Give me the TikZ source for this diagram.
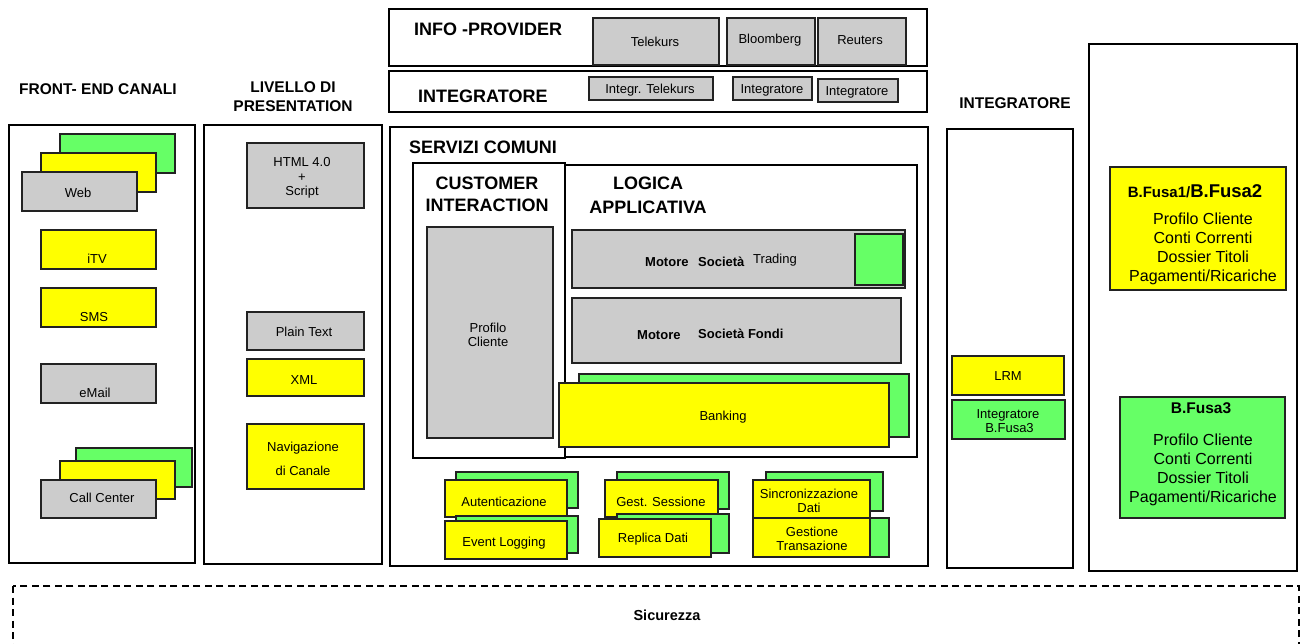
\documentclass[tikz,border=0pt]{standalone}
\usepackage{fontspec}
\setmainfont{Liberation Sans}
\usetikzlibrary{fit}
\definecolor{boxgray}{HTML}{CCCCCC}
\definecolor{boxyellow}{HTML}{FFFF00}
\definecolor{boxgreen}{HTML}{66FF66}
\definecolor{edgegray}{HTML}{222222}

\begin{document}
\begin{tikzpicture}[x=1pt,y=-1pt,
  frame/.style={draw=black, line width=2.8pt, inner sep=0pt},
  inbox/.style={draw=edgegray, line width=1.4pt, inner sep=0pt},
  gbox/.style={inbox, fill=boxgray},
  ybox/.style={inbox, fill=boxyellow},
  grbox/.style={inbox, fill=boxgreen},
  txt/.style={inner sep=0pt, font=\fontsize{13}{15.6}\selectfont, align=center},
  coltitle/.style={inner sep=0pt, font=\bfseries\fontsize{15.5}{18.8}\selectfont, align=center},
  sectitle/.style={inner sep=0pt, font=\bfseries\fontsize{18}{22}\selectfont, align=center},
  bold13/.style={inner sep=0pt, font=\bfseries\fontsize{13}{15.6}\selectfont},
  listtxt/.style={inner sep=0pt, font=\fontsize{16}{18.8}\selectfont, align=center},
  secure/.style={draw=black, line width=1.5pt, dash pattern=on 7pt off 4.5pt}
]
\useasboundingbox (0,0) rectangle (1308,643);

% ---------- column titles ----------
\node[coltitle] (tfe) at (98,89) {FRONT- END CANALI};
\node[coltitle] (tpres) at (293,97) {LIVELLO DI\\PRESENTATION};
\node[coltitle] (tint) at (1015,103) {INTEGRATORE};

% ---------- front-end channels ----------
\node[frame, fit={(9,125)(195,563)}] (fe) {};
\node[grbox, fit={(60,134)(175,173)}] (webg) {};
\node[ybox, fit={(41,153)(156,192)}] (weby) {};
\node[gbox, fit={(22,172)(137,211)}] (web) {};
\node[txt] (tweb) at (78,193) {Web};
\node[ybox, fit={(41,230)(156,269)}] (itv) {};
\node[txt] (titv) at (97,259) {iTV};
\node[ybox, fit={(41,288)(156,327)}] (sms) {};
\node[txt] (tsms) at (94,317) {SMS};
\node[gbox, fit={(41,364)(156,403)}] (email) {};
\node[txt] (temail) at (95,393) {eMail};
\node[grbox, fit={(76,448)(192,487)}] (ccg) {};
\node[ybox, fit={(60,461)(175,499)}] (ccy) {};
\node[gbox, fit={(41,480)(156,518)}] (cc) {};
\node[txt] (tcc) at (102,498) {Call Center};

% ---------- presentation layer ----------
\node[frame, fit={(204,125)(382,564)}] (pres) {};
\node[gbox, fit={(247,143)(364,208)}] (html) {};
\node[txt] (thtml) at (302,178) {HTML 4.0\\[-1pt]+\\[-1pt]Script};
\node[gbox, fit={(247,312)(364,350)}] (plain) {};
\node[txt] (tplain) at (304,332) {Plain Text};
\node[ybox, fit={(247,359)(364,396)}] (xml) {};
\node[txt] (txml) at (304,380) {XML};
\node[ybox, fit={(247,424)(364,489)}] (nav) {};
\node[txt] (tnav) at (303,459) {Navigazione\\[8pt]di Canale};

% ---------- info providers and integrators ----------
\node[frame, fit={(389,9)(927,66)}] (info) {};
\node[sectitle, anchor=west] (tinfo) at (414,29) {INFO -PROVIDER};
\node[gbox, fit={(593,18)(719,65)}] (telekurs) {};
\node[txt] (ttelekurs) at (655,42) {Telekurs};
\node[gbox, fit={(727,18)(815,65)}] (bloomberg) {};
\node[txt] (tbloomberg) at (770,40) {Bloomberg};
\node[gbox, fit={(818,18)(906,65)}] (reuters) {};
\node[txt] (treuters) at (860,40) {Reuters};

\node[frame, fit={(389,71)(927,112)}] (integtop) {};
\node[sectitle, anchor=west] (tintegtop) at (418,96) {INTEGRATORE};
\node[gbox, fit={(589,77)(713,100)}] (itelekurs) {};
\node[txt] (titelekurs) at (650,90) {Integr. Telekurs};
\node[gbox, fit={(733,77)(812,100)}] (ibloom) {};
\node[txt] (tibloom) at (772,90) {Integratore};
\node[gbox, fit={(818,79)(898,102)}] (ireuters) {};
\node[txt] (tireuters) at (857,92) {Integratore};

% ---------- common services ----------
\node[frame, fit={(390,127)(928,566)}] (serv) {};
\node[sectitle, anchor=west] (tserv) at (409,147) {SERVIZI COMUNI};

\node[frame, fit={(565,165)(917,457)}] (logic) {};
\node[frame, fit={(413,163)(565,458)}] (cust) {};
\node[sectitle] (tcust) at (487,194) {CUSTOMER\\INTERACTION};
\node[sectitle] (tlogic) at (648,195) {LOGICA\\[2pt]APPLICATIVA};

\node[gbox, fit={(427,227)(553,438)}] (profilo) {};
\node[txt] (tprofilo) at (488,335) {Profilo\\[-2pt]Cliente};

\node[gbox, fit={(572,230)(905,288)}] (trading) {};
\node[grbox, line width=2pt, fit={(855,234)(903,285)}] (tradingg) {};
\node[bold13, anchor=base west] (tmot1) at (645,266) {Motore};
\node[bold13, anchor=base west] (tsoc1) at (698,266) {Società};
\node[txt, anchor=base west] (ttrad) at (753,263) {Trading};

\node[gbox, fit={(572,298)(901,363)}] (fondi) {};
\node[bold13, anchor=base west] (tmot2) at (637,339) {Motore};
\node[bold13, anchor=base west] (tsoc2) at (698,338) {Società Fondi};

\node[grbox, fit={(579,374)(909,437)}] (bankg) {};
\node[ybox, fit={(559,383)(889,447)}] (bank) {};
\node[txt] (tbank) at (723,417) {Banking};

\node[grbox, fit={(456,472)(578,508)}] (authg) {};
\node[ybox, fit={(445,480)(567,517)}] (auth) {};
\node[txt] (tauth) at (504,502) {Autenticazione};
\node[grbox, fit={(456,516)(578,553)}] (logg) {};
\node[ybox, fit={(445,521)(567,559)}] (logy) {};
\node[txt] (tlog) at (504,543) {Event Logging};

\node[grbox, fit={(617,472)(729,509)}] (sessg) {};
\node[ybox, fit={(605,480)(718,517)}] (sess) {};
\node[txt] (tsess) at (661,502) {Gest. Sessione};
\node[grbox, fit={(617,514)(729,553)}] (replg) {};
\node[ybox, fit={(599,519)(711,557)}] (repl) {};
\node[txt] (trepl) at (653,539) {Replica Dati};

\node[grbox, fit={(766,472)(883,511)}] (syncg) {};
\node[ybox, fit={(753,480)(870,518)}] (sync) {};
\node[txt] (tsync) at (809,501) {Sincronizzazione\\[-1pt]Dati};
\node[grbox, fit={(766,518)(889,557)}] (transg) {};
\node[ybox, fit={(753,518)(870,557)}] (trans) {};
\node[txt] (ttrans) at (812,539) {Gestione\\[-2pt]Transazione};

% ---------- integrator column ----------
\node[frame, fit={(947,129)(1073,568)}] (integ) {};
\node[ybox, fit={(952,356)(1064,395)}] (lrm) {};
\node[txt] (tlrm) at (1008,376) {LRM};
\node[grbox, fit={(952,400)(1065,439)}] (ibf3) {};
\node[txt] (tibf3) at (1008,421) {Integratore\\[-2pt]\hspace*{3pt}B.Fusa3};

% ---------- banks ----------
\node[frame, fit={(1089,44)(1297,571)}] (banks) {};
\node[ybox, fit={(1110,167)(1286,290)}] (bf12) {};
\node[inner sep=0pt, font=\bfseries] (tbf12) at (1195,191)
  {{\fontsize{15}{18}\selectfont B.Fusa1/}{\fontsize{18.5}{20}\selectfont B.Fusa2}};
\node[listtxt] (lbf12) at (1203,249) {Profilo Cliente\\Conti Correnti\\Dossier Titoli\\Pagamenti/Ricariche};
\node[grbox, fit={(1120,397)(1285,518)}] (bf3) {};
\node[inner sep=0pt, font=\bfseries\fontsize{15.5}{18}\selectfont] (tbf3) at (1201,408) {B.Fusa3};
\node[listtxt] (lbf3) at (1203,470) {Profilo Cliente\\Conti Correnti\\Dossier Titoli\\Pagamenti/Ricariche};

% ---------- security layer ----------
\begin{scope}
\clip (0,0) rectangle (1308,643);
\draw[secure] (13,586) rectangle (1299,670);
\end{scope}
\coordinate (secNW) at (13,586);
\node[inner sep=0pt, font=\bfseries\fontsize{14.5}{16}\selectfont] (tsec) at (667,615) {Sicurezza};

\end{tikzpicture}
\end{document}
